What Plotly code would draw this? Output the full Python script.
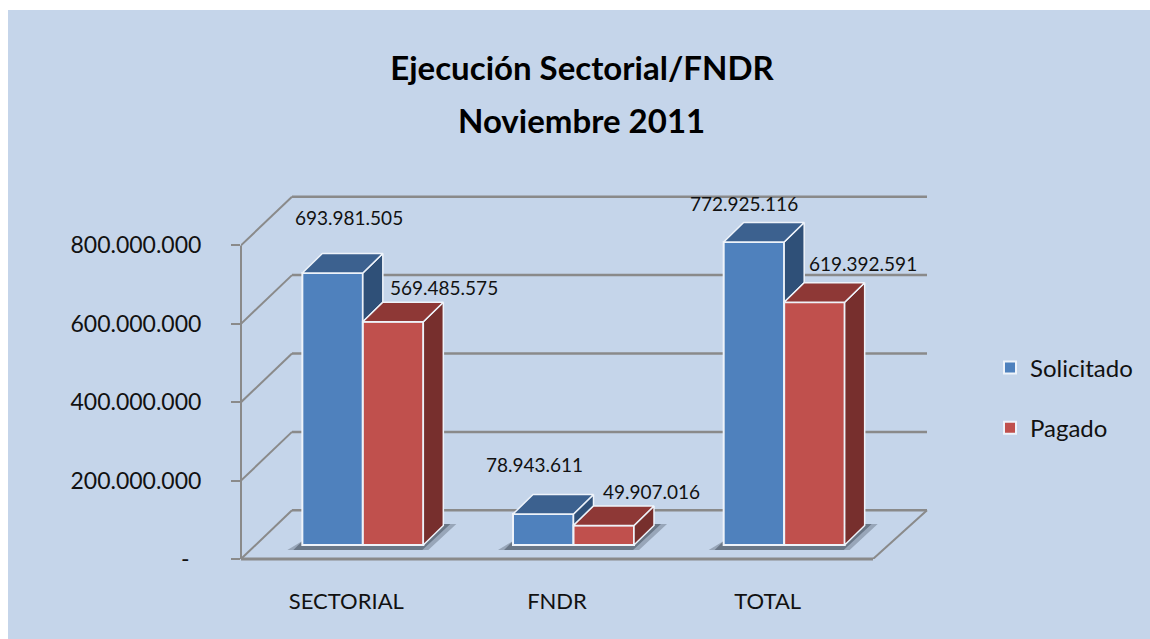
import plotly.graph_objects as go

# ---------- data ----------
categories = ["SECTORIAL", "FNDR", "TOTAL"]
solicitado = [693981505, 78943611, 772925116]
pagado = [569485575, 49907016, 619392591]
y_ticks = [0, 200000000, 400000000, 600000000, 800000000]
y_tick_labels = ["-\u00a0\u00a0", "200.000.000", "400.000.000", "600.000.000", "800.000.000"]
title_lines = ["Ejecución Sectorial/FNDR", "Noviembre 2011"]

# ---------- chart geometry (scale factors between axis units and pixels) ----------
W, H = 1150, 639
LEFT, RIGHT, TOP, BOTTOM = 241, W, 190, 559
WALL_RIGHT = 927
CAT_PX = 210.67
VAL_PER_PX = 200e6 / 78.4
def ux(px): return px / CAT_PX
def uy(px): return px * VAL_PER_PX

X0 = -0.5
X_FRONT_END = 2.5
X_WALL_END = X0 + ux(WALL_RIGHT - LEFT)
X_END = X0 + ux(RIGHT - LEFT)
Y_END = uy(BOTTOM - TOP)
WALL_DX, WALL_DY = ux(51), uy(48.7)
BASE = uy(14)
BAR_W = ux(60.5)
GROUP_LEFT = ux(-44)
DEPTH_DX, DEPTH_DY = ux(20), uy(19.5)

GRID = "#8a8a8a"
EDGE = "#eef3fa"
FONT = "Lato, Open Sans, sans-serif"
INK = "#111111"
STYLES = [
    dict(name="Solicitado", front="#4f81bd", top="#3c618f", side="#2f5078"),
    dict(name="Pagado", front="#c0504d", top="#8e3836", side="#772f2d"),
]
# manual data-label offsets in pixels from the top of each bar: (series, category)
LABEL_SHIFT = [
    [(16, 55), (-9, 50), (-10, 39)],
    [(51, 34), (48, 34), (49, 39)],
]

def dots(v):
    return f"{v:,d}".replace(",", ".")

fig = go.Figure()
shapes = []

# panel
shapes.append(dict(type="rect", xref="paper", yref="paper", layer="below",
                   x0=(8 - LEFT) / (RIGHT - LEFT), x1=1,
                   y0=(BOTTOM - H) / (BOTTOM - TOP), y1=(BOTTOM - 10) / (BOTTOM - TOP),
                   fillcolor="#c5d5ea", line_width=0))

# back wall grid and side wall lines
def seg(x0, y0, x1, y1, **kw):
    d = dict(type="line", xref="x", yref="y", layer="below", x0=x0, y0=y0, x1=x1, y1=y1,
             line=dict(color=GRID, width=2.5))
    d.update(kw)
    return d

for v in y_ticks:
    shapes.append(seg(X0, v, X0 + WALL_DX, v + WALL_DY, line=dict(color=GRID, width=2)))
    shapes.append(seg(X0 + WALL_DX, v + WALL_DY, X_WALL_END, v + WALL_DY))

# front axis lines and floor edge
shapes.append(dict(type="line", xref="paper", yref="y", layer="below", x0=0, x1=0,
                   y0=0, y1=y_ticks[-1], line=dict(color=GRID, width=2)))
shapes.append(dict(type="line", xref="x", yref="paper", layer="below", x0=X0, x1=X_FRONT_END,
                   y0=0, y1=0, line=dict(color=GRID, width=3)))
shapes.append(seg(X_FRONT_END, 0, X_WALL_END, WALL_DY, line=dict(color=GRID, width=2)))

# floor shadows
for i in range(len(categories)):
    l = i + GROUP_LEFT
    r = l + 2 * BAR_W
    for grow, op in ((0, 0.35), (ux(-6), 0.55)):
        pts = [(l - ux(15) - grow, BASE - uy(5)), (r + ux(5) + grow, BASE - uy(5)),
               (r + ux(33) + grow, BASE + uy(21)), (r + ux(18), BASE + uy(21)),
               (r, BASE + uy(4)), (l, BASE + uy(4))]
        path = "M " + " L ".join(f"{a},{b}" for a, b in pts) + " Z"
        shapes.append(dict(type="path", xref="x", yref="y", layer="below", path=path,
                           fillcolor=f"rgba(70,80,95,{op})", line_width=0))

# fronts
for s, (vals, st) in enumerate(zip((solicitado, pagado), STYLES)):
    fig.add_trace(go.Bar(
        x=[i + GROUP_LEFT + BAR_W * (s + 0.5) for i in range(len(categories))],
        y=vals, base=[BASE] * len(vals), width=BAR_W, name=st["name"],
        legendgroup=st["name"],
        marker=dict(color=st["front"], line=dict(color=EDGE, width=2)),
        hoverinfo="skip"))

def face(xs, ys, color):
    fig.add_trace(go.Scatter(x=xs + xs[:1], y=ys + ys[:1], mode="lines", fill="toself",
                             fillcolor=color, line=dict(color=EDGE, width=1.5),
                             showlegend=False, hoverinfo="skip"))

# 3-D faces, back series first so each red box overlaps the blue box behind it
for s, (vals, st) in enumerate(zip((solicitado, pagado), STYLES)):
    for i, v in enumerate(vals):
        l = i + GROUP_LEFT + BAR_W * s
        r = l + BAR_W
        top = BASE + v
        # a blue side stops where the red box in front of it begins
        floor = BASE + pagado[i] if s == 0 else BASE
        face([r, r + DEPTH_DX, r + DEPTH_DX, r],
             [top, top + DEPTH_DY, floor + DEPTH_DY, floor], st["side"])
        face([l, l + DEPTH_DX, r + DEPTH_DX, r],
             [top, top + DEPTH_DY, top + DEPTH_DY, top], st["top"])

# data labels
annotations = []
for s, vals in enumerate((solicitado, pagado)):
    for i, v in enumerate(vals):
        dx, dy = LABEL_SHIFT[s][i]
        annotations.append(dict(x=i + GROUP_LEFT + BAR_W * (s + 0.5), y=BASE + v,
                                xref="x", yref="y", text=dots(v), showarrow=False,
                                xshift=dx, yshift=dy,
                                font=dict(family=FONT, size=19, color=INK)))
# second title line
annotations.append(dict(x=(581 - LEFT) / (RIGHT - LEFT), y=(BOTTOM - 120) / (BOTTOM - TOP),
                        xref="paper", yref="paper", text=title_lines[1], showarrow=False,
                        xanchor="center", yanchor="middle",
                        font=dict(family=FONT, size=33, color="#000000", weight="bold")))

fig.update_layout(
    width=W, height=H, autosize=False,
    margin=dict(l=LEFT, r=W - RIGHT, t=TOP, b=H - BOTTOM, pad=0),
    paper_bgcolor="white", plot_bgcolor="rgba(0,0,0,0)",
    barmode="overlay", shapes=shapes, annotations=annotations,
    font=dict(family=FONT, color=INK),
    title=dict(text=title_lines[0], x=582 / W, xanchor="center", xref="container",
               y=1 - 68 / H, yanchor="middle",
               font=dict(family=FONT, size=33, color="#000000", weight="bold")),
    legend=dict(x=(990 - LEFT) / (RIGHT - LEFT), xanchor="left",
                y=(BOTTOM - 398) / (BOTTOM - TOP), yanchor="middle",
                bgcolor="rgba(0,0,0,0)", tracegroupgap=26,
                font=dict(family=FONT, size=24, color=INK)),
    xaxis=dict(range=[X0, X_END], tickmode="array", tickvals=list(range(len(categories))),
               ticktext=categories, showgrid=False, zeroline=False, showline=False,
               ticks="", ticklabelstandoff=27, tickfont=dict(family=FONT, size=22, color=INK)),
    yaxis=dict(range=[0, Y_END], tickmode="array", tickvals=y_ticks, ticktext=y_tick_labels,
               showgrid=False, zeroline=False, showline=False, ticks="outside", ticklen=9,
               tickwidth=2, tickcolor=GRID, ticklabelstandoff=25,
               tickfont=dict(family=FONT, size=23, color=INK)),
)

fig.write_html("out.html", config=dict(displayModeBar=False),
               post_script="document.body.style.margin='0';document.body.style.overflow='hidden';")
